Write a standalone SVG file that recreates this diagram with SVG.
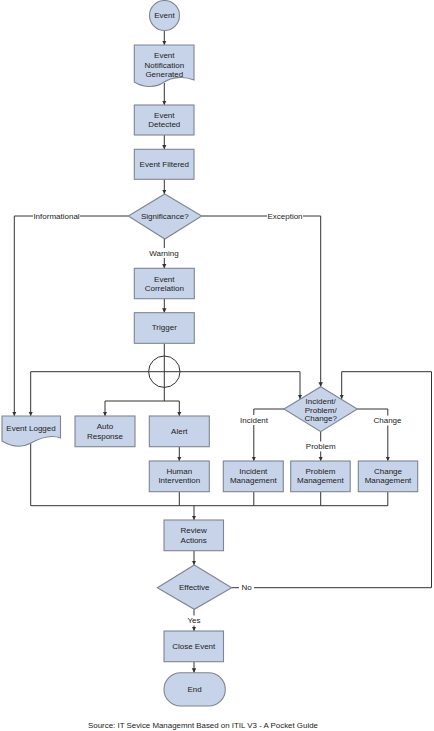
<svg xmlns="http://www.w3.org/2000/svg" width="434" height="731" viewBox="0 0 434 731">
<defs>
<style>
.n{fill:#c7d3e8;stroke:#7d8594;stroke-width:1.1}
.t{font-family:"Liberation Sans",Arial,sans-serif;font-size:8px;fill:#222;text-anchor:middle;dominant-baseline:central}
.c{fill:none;stroke:#333;stroke-width:1}
.bg{fill:#fff}
</style>
<marker id="a" viewBox="0 0 10 10" refX="10" refY="5" markerWidth="4.5" markerHeight="5.5" orient="auto" markerUnits="userSpaceOnUse"><path d="M0,0 L10,5 L0,10 Z" fill="#333"/></marker>
</defs>
<rect width="434" height="731" fill="#fff"/>
<g id="connectors">
<path class="c" d="M164.3,30.5 V45" marker-end="url(#a)"/>
<path class="c" d="M164.3,83 V105" marker-end="url(#a)"/>
<path class="c" d="M164.3,135 V149.3" marker-end="url(#a)"/>
<path class="c" d="M164.3,179.3 V194" marker-end="url(#a)"/>
<path class="c" d="M164.3,239 V268.3" marker-end="url(#a)"/>
<path class="c" d="M164.3,298.7 V312.7" marker-end="url(#a)"/>
<path class="c" d="M128.3,216 H14.3 V416" marker-end="url(#a)"/>
<path class="c" d="M201.7,216 H320.7 V386.7" marker-end="url(#a)"/>
<path class="c" d="M164.3,343.3 V401"/>
<circle cx="164.3" cy="371.7" r="15.7" fill="none" stroke="#333" stroke-width="1"/>
<path class="c" d="M30.7,371.7 V416" marker-end="url(#a)"/>
<path class="c" d="M30.7,371.7 H300 V399" marker-end="url(#a)"/>
<path class="c" d="M105,401 H179.3"/>
<path class="c" d="M105,401 V416" marker-end="url(#a)"/>
<path class="c" d="M179.3,401 V416" marker-end="url(#a)"/>
<path class="c" d="M179.3,446.7 V461" marker-end="url(#a)"/>
<path class="c" d="M284,409 H253.8 V461" marker-end="url(#a)"/>
<path class="c" d="M320.7,431.7 V461" marker-end="url(#a)"/>
<path class="c" d="M357.3,409 H387.8 V461" marker-end="url(#a)"/>
<path class="c" d="M30.7,443 V505.7 H387.8"/>
<path class="c" d="M179.3,491.7 V505.7"/>
<path class="c" d="M253.8,491.7 V505.7"/>
<path class="c" d="M320.7,491.7 V505.7"/>
<path class="c" d="M387.8,491.7 V505.7"/>
<path class="c" d="M194,505.7 V520" marker-end="url(#a)"/>
<path class="c" d="M194,550.7 V565" marker-end="url(#a)"/>
<path class="c" d="M194,609.3 V631" marker-end="url(#a)"/>
<path class="c" d="M194,661.7 V672.7" marker-end="url(#a)"/>
<path class="c" d="M231.7,587.7 H431.5 V371.7 H341.7 V399" marker-end="url(#a)"/>
<rect class="bg" x="33" y="211" width="47" height="10"/>
<text class="t" x="56.5" y="216">Informational</text>
<rect class="bg" x="267" y="211" width="36" height="10"/>
<text class="t" x="285" y="216">Exception</text>
<rect class="bg" x="148" y="248" width="32" height="10"/>
<text class="t" x="164" y="253.3">Warning</text>
<rect class="bg" x="239" y="415" width="30" height="10"/>
<text class="t" x="254" y="420">Incident</text>
<rect class="bg" x="303" y="441.5" width="35" height="10"/>
<text class="t" x="320.7" y="446.7">Problem</text>
<rect class="bg" x="372" y="415.5" width="31" height="10"/>
<text class="t" x="387.5" y="420.7">Change</text>
<rect class="bg" x="239" y="582.5" width="15" height="10"/>
<text class="t" x="246.7" y="587.7">No</text>
<rect class="bg" x="186" y="615.5" width="16" height="10"/>
<text class="t" x="194" y="620.7">Yes</text>
</g>
<g id="event"><circle class="n" cx="164.5" cy="15.5" r="15"/><text class="t" x="164.5" y="15.5">Event</text></g>
<g id="notification"><path class="n" d="M134.3,45 H194 V80 C184,76 172,77 164,82 C156,88 144,88 134.3,82 Z"/>
<text class="t" x="164.3" y="55.7">Event</text><text class="t" x="164.3" y="65">Notification</text><text class="t" x="164.3" y="74">Generated</text></g>
<g id="detected"><rect class="n" x="134.3" y="105" width="59.7" height="30"/><text class="t" x="164.3" y="115">Event</text><text class="t" x="164.3" y="124">Detected</text></g>
<g id="filtered"><rect class="n" x="134.3" y="149.3" width="59.7" height="30"/><text class="t" x="164.3" y="164.3">Event Filtered</text></g>
<g id="significance"><path class="n" d="M164.8,194 L201.7,216 L164.8,239 L128.3,216 Z"/><text class="t" x="164.8" y="216.5">Significance?</text></g>
<g id="correlation"><rect class="n" x="134.3" y="268.3" width="60" height="30.4"/><text class="t" x="164.3" y="279">Event</text><text class="t" x="164.3" y="288.3">Correlation</text></g>
<g id="trigger"><rect class="n" x="134.3" y="312.7" width="60" height="30.6"/><text class="t" x="164.3" y="327.5">Trigger</text></g>
<g id="logged"><path class="n" d="M2,416 H60.5 V438 C50,434 40,438 31,443 C22,448 12,447 2,441 Z"/><text class="t" x="31" y="428.3">Event Logged</text></g>
<g id="autoresponse"><rect class="n" x="75" y="416" width="60" height="30.7"/><text class="t" x="105" y="426.7">Auto</text><text class="t" x="105" y="436">Response</text></g>
<g id="alert"><rect class="n" x="149.3" y="416" width="60" height="30.7"/><text class="t" x="179.3" y="431">Alert</text></g>
<g id="human"><rect class="n" x="149.3" y="461" width="60" height="30.7"/><text class="t" x="179.3" y="471.7">Human</text><text class="t" x="179.3" y="480.7">Intervention</text></g>
<g id="ipc"><path class="n" d="M320.7,386.7 L357.3,409 L320.7,431.7 L284,409 Z"/><text class="t" x="320.7" y="401.7">Incident/</text><text class="t" x="320.7" y="410">Problem/</text><text class="t" x="320.7" y="418.3">Change?</text></g>
<g id="incident"><rect class="n" x="223.3" y="461" width="60" height="30.7"/><text class="t" x="253.3" y="471.7">Incident</text><text class="t" x="253.3" y="480.7">Management</text></g>
<g id="problem"><rect class="n" x="290.7" y="461" width="59.5" height="30.7"/><text class="t" x="320.4" y="471.7">Problem</text><text class="t" x="320.4" y="480.7">Management</text></g>
<g id="change"><rect class="n" x="358.3" y="461" width="59.4" height="30.7"/><text class="t" x="388" y="471.7">Change</text><text class="t" x="388" y="480.7">Management</text></g>
<g id="review"><rect class="n" x="164" y="520" width="59.5" height="30.7"/><text class="t" x="193.7" y="530.7">Review</text><text class="t" x="193.7" y="540">Actions</text></g>
<g id="effective"><path class="n" d="M194.3,565 L231.7,587.7 L194.3,609.3 L157.3,587.7 Z"/><text class="t" x="194.3" y="587.7">Effective</text></g>
<g id="close"><rect class="n" x="164" y="631" width="59.5" height="30.7"/><text class="t" x="193.7" y="646.7">Close Event</text></g>
<g id="end"><rect class="n" x="164" y="672.7" width="61.3" height="33.3" rx="16.6" ry="16.6"/><text class="t" x="194.6" y="689.5">End</text></g>
<text class="t" x="203" y="725" style="font-size:7.9px">Source: IT Sevice Managemnt Based on ITIL V3 - A Pocket Guide</text>
</svg>
